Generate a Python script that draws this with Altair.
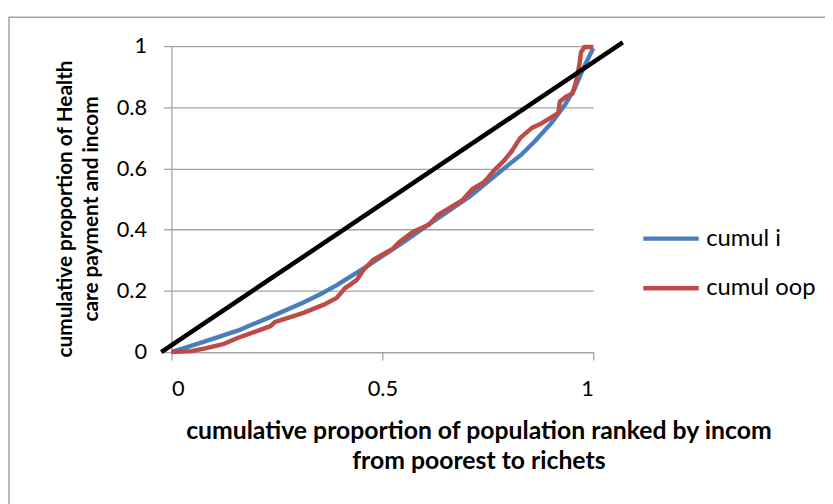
import altair as alt
import pandas as pd

# ---- data ----
cumul_i_x = [0.0, 0.078, 0.157, 0.235, 0.313, 0.36, 0.392, 0.470, 0.549, 0.611,
             0.705, 0.784, 0.831, 0.862, 0.901, 0.933, 0.956, 0.980, 1.0]
cumul_i_y = [0.0, 0.034, 0.070, 0.115, 0.162, 0.194, 0.219, 0.286, 0.358, 0.418,
             0.506, 0.595, 0.647, 0.690, 0.749, 0.808, 0.862, 0.9375, 0.993]

cumul_oop_x = [0.0, 0.047, 0.08, 0.125, 0.157, 0.204, 0.235, 0.245, 0.313, 0.36,
               0.392, 0.411, 0.439, 0.455, 0.478, 0.525, 0.541, 0.572, 0.611, 0.631,
               0.690, 0.713, 0.741, 0.764, 0.788, 0.807, 0.827, 0.854, 0.878, 0.917,
               0.921, 0.936, 0.951, 0.959, 0.967, 0.971, 0.979, 1.0]
cumul_oop_y = [0.0, 0.003, 0.012, 0.027, 0.046, 0.069, 0.085, 0.098, 0.128, 0.154,
               0.177, 0.208, 0.235, 0.268, 0.301, 0.338, 0.360, 0.392, 0.417, 0.447,
               0.496, 0.532, 0.555, 0.592, 0.625, 0.657, 0.700, 0.732, 0.748, 0.781,
               0.819, 0.835, 0.845, 0.883, 0.938, 0.980, 0.997, 0.997]

diag_x = [-0.024, 1.07]
diag_y = [0.0, 1.012]

series_names = ["cumul i", "cumul oop", "equality"]
series_colors = ["#4A7EBB", "#BE4B48", "#000000"]
series_widths = [4.4, 4.6, 5.0]
legend_names = ["cumul i", "cumul oop"]

x_ticks = [0, 0.5, 1]
y_ticks = [0, 0.2, 0.4, 0.6, 0.8, 1]

x_title = ["cumulative proportion of population ranked by incom", "from poorest to richets"]
y_title = ["cumulative proportion of Health", "care payment and incom"]

rows = []
for name, xs, ys in [("cumul i", cumul_i_x, cumul_i_y),
                     ("cumul oop", cumul_oop_x, cumul_oop_y),
                     ("equality", diag_x, diag_y)]:
    for i, (xv, yv) in enumerate(zip(xs, ys)):
        rows.append({"series": name, "x": xv, "y": yv, "order": i})
df = pd.DataFrame(rows)

FONT = "Lato"
GRAY = "#A3A3A3"

lines = alt.Chart(df).mark_line(strokeCap="butt", strokeJoin="round", clip=False).encode(
    x=alt.X("x:Q", scale=alt.Scale(domain=[0, 1], nice=False, zero=False),
            axis=alt.Axis(values=x_ticks, grid=False, title=x_title,
                          format="~g", labelFontSize=22, labelPadding=19,
                          tickSize=8, titleX=310, titleY=79, titleBaseline="middle",
                          titleAlign="center", titleLineHeight=31, titleFontSize=25)),
    y=alt.Y("y:Q", scale=alt.Scale(domain=[0, 1], nice=False),
            axis=alt.Axis(values=y_ticks, grid=True, title=y_title,
                          format="~g", labelFontSize=22, labelPadding=17,
                          tickSize=8, titleAngle=270, titleX=-107, titleY=164,
                          titleBaseline="middle", titleAlign="center",
                          titleLineHeight=26, titleFontSize=21)),
    color=alt.Color("series:N",
                    scale=alt.Scale(domain=series_names, range=series_colors),
                    legend=alt.Legend(values=legend_names, title=None, orient="none",
                                      legendX=474, legendY=164, symbolType="stroke",
                                      symbolSize=3136, symbolStrokeWidth=5,
                                      labelFontSize=24, labelOffset=5,
                                      rowPadding=7, labelFont=FONT, labelColor="#000")),
    strokeWidth=alt.StrokeWidth("series:N",
                                scale=alt.Scale(domain=series_names, range=series_widths),
                                legend=None),
    order="order:Q",
)

frame = alt.Chart(pd.DataFrame({"a": [0]})).mark_rect(
    filled=False, stroke=GRAY, strokeWidth=1.5
).encode(x=alt.value(-164), x2=alt.value(662), y=alt.value(-29), y2=alt.value(480))

chart = alt.layer(frame, lines).properties(
    width=426, height=309,
    autosize=alt.AutoSizeParams(type="none"),
    padding={"left": 165, "top": 36, "right": 234, "bottom": 151},
).configure_view(strokeWidth=0).configure_axis(
    domainColor=GRAY, domainWidth=1.3, tickColor=GRAY, tickWidth=1.3,
    gridColor=GRAY, gridWidth=1.3, labelFont=FONT, labelColor="#000",
    titleFont=FONT, titleFontWeight="bold", titleColor="#000",
)

chart.save("out.html", embed_options={"renderer": "svg", "actions": False})
